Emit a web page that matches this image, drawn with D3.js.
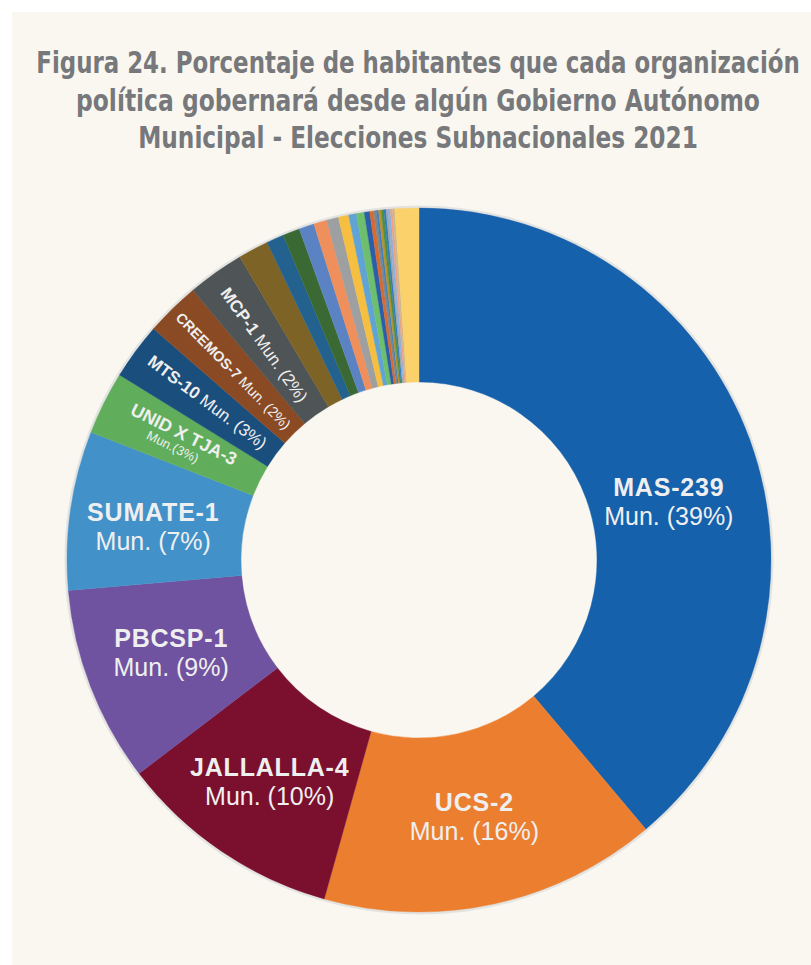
<!DOCTYPE html>
<html>
<head>
<meta charset="utf-8">
<script src="https://cdn.jsdelivr.net/npm/d3@7"></script>
<style>
  body { margin: 0; background: #fff; }
</style>
</head>
<body>
<div id="chart"></div>
<script>
// Figura 24 - share of inhabitants governed by each political organization

const titleLines = [
  "Figura 24. Porcentaje de habitantes que cada organización",
  "política gobernará desde algún Gobierno Autónomo",
  "Municipal - Elecciones Subnacionales 2021"
];

// slices, clockwise from 12 o'clock (in %)
const parties = [
  "MAS", "UCS", "JALLALLA", "PBCSP", "SUMATE", "UNID X TJA", "MTS", "CREEMOS", "MCP",
  "o1", "o2", "o3", "o4", "o5", "o6", "o7", "o8", "o9",
  "o10", "o11", "o12", "o13", "o14", "o15", "o16", "o17", "o18", "o19", "o20", "o21"
];
const shares = [
  38.9, 15.5, 10.3, 9.0, 7.3, 2.9, 2.6, 2.5, 2.6,
  1.4, 0.8, 0.78, 0.7, 0.6, 0.55, 0.47, 0.36, 0.36,
  0.25, 0.18, 0.12, 0.10, 0.12, 0.12, 0.10, 0.08, 0.12, 0.10, 0.10, 1.1
];
const colors = [
  "#1661ab", "#ec7f2f", "#7a0f2e", "#6f52a0", "#4391c9", "#60ae5b", "#1a4e7d", "#8a4a24", "#4f5457",
  "#7e6327", "#23628f", "#3b6934", "#5b83c3", "#ef8f5b", "#9d9fa1", "#f6bf40", "#60a3d5", "#6dbf6b",
  "#2b5ea9", "#d96a2d", "#808689", "#3e80c1", "#b9912f", "#4f903f", "#2e7bc0", "#a1a1a1", "#8bb1dc",
  "#f0a182", "#c9b991", "#fad16b"
];

// labels of the nine named slices
const labelNames = ["MAS-239", "UCS-2", "JALLALLA-4", "PBCSP-1", "SUMATE-1", "UNID X TJA-3", "MTS-10", "CREEMOS-7", "MCP-1"];
const labelPercents = ["39%", "16%", "10%", "9%", "7%", "3%", "3%", "2%", "2%"];

const width = 811, height = 965;
const cx = 419, cy = 560, outerR = 352, innerR = 178;

const svg = d3.select("#chart")
  .append("svg")
  .attr("width", width)
  .attr("height", height);

// cream panel
svg.append("rect")
  .attr("x", 12)
  .attr("y", 12)
  .attr("width", width - 12)
  .attr("height", height - 12)
  .attr("fill", "#f9f7f0");

// title: drawn at natural size then squeezed sideways to the reference width
const titleWidths = [764, 684, 560];
svg.append("g")
  .selectAll("text")
  .data(titleLines)
  .join("text")
  .attr("text-anchor", "middle")
  .style("font-family", "'Liberation Sans Narrow', 'DejaVu Sans Condensed', sans-serif")
  .style("font-weight", "bold")
  .style("font-size", "30px")
  .style("fill", "#77787b")
  .text(d => d)
  .attr("transform", function (d, i) {
    const k = titleWidths[i] / this.getComputedTextLength();
    return "translate(418," + (73 + i * 37.5) + ") scale(" + k + ",1)";
  });

const data = parties.map((p, i) => ({ party: p, share: shares[i], color: colors[i] }));

const pie = d3.pie()
  .sort(null)
  .value(d => d.share);

const arcs = pie(data);

const arc = d3.arc()
  .innerRadius(innerR)
  .outerRadius(outerR);

const g = svg.append("g")
  .attr("transform", "translate(" + cx + "," + cy + ")");

// faint halo round the ring
g.append("circle")
  .attr("r", outerR + 1)
  .attr("fill", "none")
  .attr("stroke", "#e3e3e1")
  .attr("stroke-width", 3);

g.selectAll("path.slice")
  .data(arcs)
  .join("path")
  .attr("class", "slice")
  .attr("d", arc)
  .attr("fill", d => d.data.color)
  .attr("stroke", d => d.data.color)
  .attr("stroke-width", 0.4);

// label placement: radius, angle nudge (deg), style
const labelLayout = [
  { kind: "flat", r: 257, shift: 6.5 },
  { kind: "flat", r: 261, shift: 0 },
  { kind: "flat", r: 266, shift: 0 },
  { kind: "flat", r: 264, shift: 1 },
  { kind: "flat", r: 268, shift: -0.7 },
  { kind: "stack", r: 268, shift: 0, size: 18, sub: 13 },
  { kind: "inline", r: 264, shift: 0.4, size: 17 },
  { kind: "inline", r: 265, shift: 0, size: 14.5 },
  { kind: "inline", r: 265, shift: -0.4, size: 17 }
];

const labelFont = "'Liberation Sans', Arial, sans-serif";
const labelFill = "#efefef";

labelNames.forEach((name, i) => {
  const a = arcs[i];
  const lay = labelLayout[i];
  const mid = (a.startAngle + a.endAngle) / 2 + lay.shift * Math.PI / 180;
  const x = lay.r * Math.sin(mid), y = -lay.r * Math.cos(mid);

  if (lay.kind === "flat") {
    const t = g.append("text")
      .attr("transform", "translate(" + x + "," + y + ")")
      .attr("text-anchor", "middle")
      .style("font-family", labelFont)
      .style("fill", labelFill);
    t.append("tspan")
      .attr("x", 0).attr("y", -4)
      .style("font-weight", "bold")
      .style("font-size", "25px")
      .style("letter-spacing", "0.8px")
      .text(name);
    t.append("tspan")
      .attr("x", 0).attr("y", 25)
      .style("font-size", "25px")
      .text("Mun. (" + labelPercents[i] + ")");
  } else {
    const rot = mid * 180 / Math.PI - 270;
    const t = g.append("text")
      .attr("transform", "translate(" + x + "," + y + ") rotate(" + rot + ")")
      .attr("text-anchor", "middle")
      .style("font-family", labelFont)
      .style("fill", labelFill);
    if (lay.kind === "stack") {
      t.append("tspan")
        .attr("x", 1.5).attr("y", -1.5)
        .style("font-weight", "bold")
        .style("font-size", lay.size + "px")
        .text(name);
      t.append("tspan")
        .attr("x", -3).attr("y", 13)
        .style("font-size", lay.sub + "px")
        .text("Mun.(" + labelPercents[i] + ")");
    } else {
      t.attr("y", lay.size * 0.36)
        .style("font-size", lay.size + "px");
      t.append("tspan")
        .style("font-weight", "bold")
        .text(name);
      t.append("tspan")
        .text(" Mun. (" + labelPercents[i] + ")");
    }
  }
});
</script>
</body>
</html>
